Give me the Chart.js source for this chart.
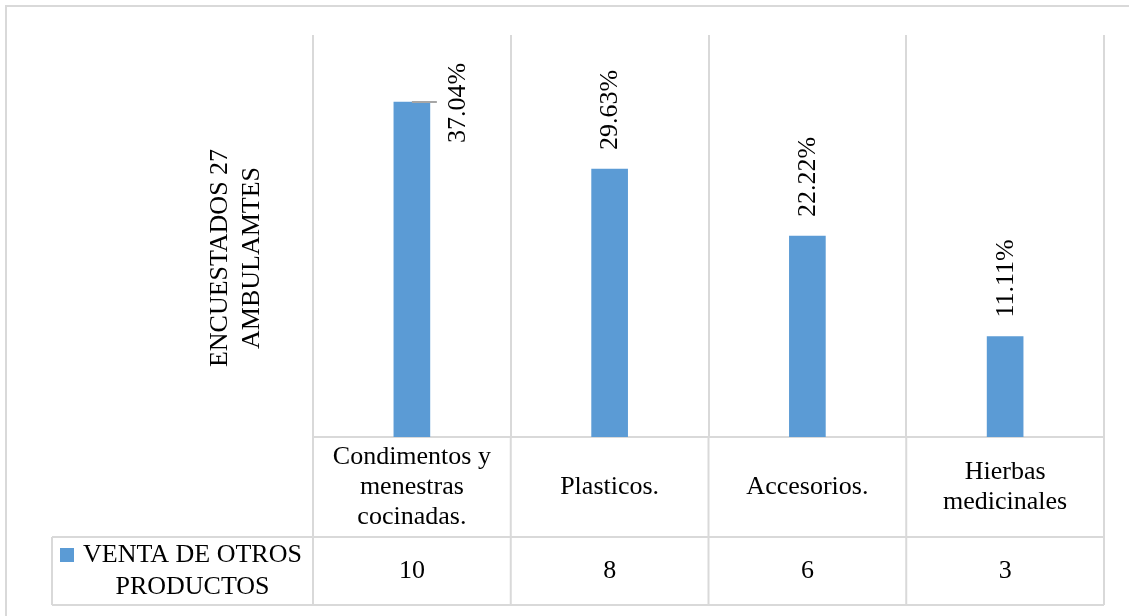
<!DOCTYPE html>
<html lang="es">
<head>
  <meta charset="UTF-8">
  <title>Venta de otros productos</title>
  <style>
    html, body { margin: 0; padding: 0; background: #fff; }
    .chart-container { width: 1129px; height: 616px; position: relative; }
  </style>
</head>
<body>
  <div class="chart-container">
    <canvas id="ventasChart"></canvas>
  </div>

  <script src="https://cdn.jsdelivr.net/npm/chart.js"></script>
  <script>
    // categorias (cada una partida en lineas para la tabla de datos)
    const categories = [
      ['Condimentos y', 'menestras', 'cocinadas.'],
      ['Plasticos.'],
      ['Accesorios.'],
      ['Hierbas', 'medicinales']
    ];
    const counts = [10, 8, 6, 3];
    const totalRespondents = 27;
    const seriesName = ['VENTA DE OTROS', 'PRODUCTOS'];
    const axisTitle = ['ENCUESTADOS 27', 'AMBULAMTES'];

    const BAR_COLOR = '#5b9bd5';
    const LINE_COLOR = '#d9d9d9';
    const FONT = '26px "Liberation Serif", "Times New Roman", serif';

    Chart.defaults.font.family = '"Liberation Serif", "Times New Roman", serif';

    const pct = v => (v / totalRespondents * 100).toFixed(2) + '%';

    function line(ctx, x1, y1, x2, y2) {
      ctx.beginPath();
      ctx.moveTo(x1, y1);
      ctx.lineTo(x2, y2);
      ctx.stroke();
    }

    // marco exterior, titulo del eje, etiquetas y tabla de datos
    const extras = {
      id: 'extras',
      beforeDraw(chart) {
        const ctx = chart.ctx;
        ctx.save();
        ctx.strokeStyle = LINE_COLOR;
        ctx.lineWidth = 2;
        ctx.strokeRect(6, 6, 1200, 700);
        ctx.restore();
      },
      afterDraw(chart) {
        const { ctx, chartArea: a, scales: { x } } = chart;
        const meta = chart.getDatasetMeta(0);
        ctx.save();
        ctx.font = FONT;
        ctx.fillStyle = '#000';

        // titulo vertical del eje
        ctx.save();
        ctx.translate(236, 258);
        ctx.rotate(-Math.PI / 2);
        ctx.textAlign = 'center';
        ctx.textBaseline = 'middle';
        axisTitle.forEach((t, i) => ctx.fillText(t, 0, (i - 0.5) * 32));
        ctx.restore();

        // etiquetas de porcentaje, rotadas
        meta.data.forEach((bar, i) => {
          const label = pct(counts[i]);
          const w = ctx.measureText(label).width;
          ctx.save();
          if (bar.y - 20 - w < a.top) {
            // sin espacio arriba: al costado con linea guia
            ctx.strokeStyle = '#a6a6a6';
            ctx.lineWidth = 2;
            line(ctx, bar.x, bar.y, bar.x + 25, bar.y);
            ctx.translate(bar.x + 46, bar.y + 1);
            ctx.rotate(-Math.PI / 2);
            ctx.textAlign = 'center';
          } else {
            ctx.translate(bar.x + 1, bar.y - 19);
            ctx.rotate(-Math.PI / 2);
            ctx.textAlign = 'left';
          }
          ctx.textBaseline = 'middle';
          ctx.fillText(label, 0, 0);
          ctx.restore();
        });

        // tabla de datos bajo el eje
        const half = (x.getPixelForValue(1) - x.getPixelForValue(0)) / 2;
        const edges = counts.map((_, i) => x.getPixelForValue(i) - half);
        edges.push(x.getPixelForValue(counts.length - 1) + half);
        const row1 = a.bottom + 100;
        const row2 = a.bottom + 168;
        const legendLeft = 52;

        ctx.strokeStyle = LINE_COLOR;
        ctx.lineWidth = 2;
        edges.forEach(e => line(ctx, e, a.bottom, e, row2));
        line(ctx, legendLeft, row1, a.right, row1);
        line(ctx, legendLeft, row2, a.right, row2);
        line(ctx, legendLeft, row1, legendLeft, row2);

        ctx.textAlign = 'center';
        ctx.textBaseline = 'middle';
        const midHead = (a.bottom + row1) / 2;
        const midVals = (row1 + row2) / 2;
        categories.forEach((lines, i) => {
          const cx = x.getPixelForValue(i);
          lines.forEach((t, j) => {
            ctx.fillText(t, cx, midHead + (j - (lines.length - 1) / 2) * 30);
          });
          ctx.fillText(String(counts[i]), cx, midVals);
        });

        // clave de la serie
        const legendMid = (legendLeft + edges[0]) / 2 + 10;
        ctx.fillStyle = BAR_COLOR;
        ctx.fillRect(60, midVals - 23, 14, 14);
        ctx.fillStyle = '#000';
        seriesName.forEach((t, j) => {
          ctx.fillText(t, legendMid, midVals + (j - 0.5) * 32);
        });
        ctx.restore();
      }
    };

    new Chart(document.getElementById('ventasChart'), {
      type: 'bar',
      data: {
        labels: categories.map(c => c.join(' ')),
        datasets: [{
          label: seriesName.join(' '),
          data: counts,
          backgroundColor: BAR_COLOR,
          borderWidth: 0,
          barThickness: 36
        }]
      },
      options: {
        responsive: true,
        maintainAspectRatio: false,
        animation: false,
        layout: { padding: { left: 313, top: 35, right: 25, bottom: 179 } },
        plugins: {
          legend: { display: false },
          tooltip: { enabled: false }
        },
        scales: {
          x: {
            grid: { offset: true, color: LINE_COLOR, lineWidth: 2, drawTicks: false },
            border: { color: LINE_COLOR, width: 2 },
            ticks: { display: false }
          },
          y: {
            display: false,
            min: 0,
            max: 12
          }
        }
      },
      plugins: [extras]
    });
  </script>
</body>
</html>
